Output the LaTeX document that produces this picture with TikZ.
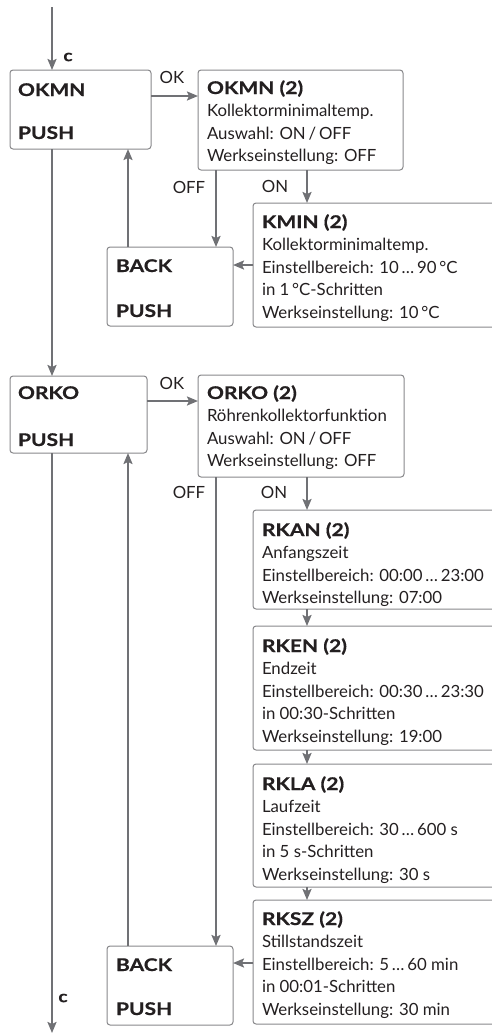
\documentclass[tikz,border=0pt]{standalone}
\usepackage{fontspec}
\setmainfont{Lato}
\newfontfamily\titlefam{Lato}[BoldFeatures={FakeStretch=1.2,FakeBold=0.6}]
\newcommand{\ttl}[1]{{\fontsize{17.5}{22.5}\titlefam\bfseries #1}}
\usetikzlibrary{arrows.meta}
\definecolor{linegray}{RGB}{112,113,117}
\definecolor{boxgray}{RGB}{135,135,138}
\definecolor{txtcol}{RGB}{35,31,32}
\begin{document}
\begin{tikzpicture}[x=1pt,y=-1pt,
  box/.style={draw=boxgray, line width=1pt, rounded corners=3pt, anchor=north west, inner sep=0pt, outer sep=0pt},
  tx/.style={anchor=base west, inner sep=0pt, outer sep=0pt, text=txtcol, font=\fontsize{16.8}{22.5}\selectfont},
  lbl/.style={anchor=base, inner sep=0pt, outer sep=0pt, text=txtcol, font=\fontsize{16.8}{18}\selectfont},
  clbl/.style={anchor=center, inner sep=0pt, outer sep=0pt, text=txtcol, font=\fontsize{16}{18}\titlefam\bfseries},
  arr/.style={draw=linegray, line width=2pt, -{Stealth[length=11pt,width=9pt,inset=2pt]}}]
\clip (0,0) rectangle (492,1034);
% columns and rows
\coordinate (xa) at (52,0);
\coordinate (xb) at (128,0);
\coordinate (xc) at (216,0);
\coordinate (xd) at (307,0);
\coordinate (ya) at (0,96);
\coordinate (yb) at (0,265);
\coordinate (yc) at (0,401);
\coordinate (yd) at (0,963);
\coordinate (start) at (52,7);
\coordinate (end) at (52,1033);
% boxes
\node[box, minimum width=141pt, minimum height=79pt] (okmn) at (10,70) {};
\node[box, minimum width=205pt, minimum height=100pt] (okmn2) at (198,70) {};
\node[box, minimum width=300pt, minimum height=124pt] (kmin) at (253,203) {};
\node[box, minimum width=126pt, minimum height=79pt] (back1) at (107,247) {};
\node[box, minimum width=137pt, minimum height=77pt] (orko) at (10,376) {};
\node[box, minimum width=206pt, minimum height=102pt] (orko2) at (198,375) {};
\node[box, minimum width=300pt, minimum height=99pt] (rkan) at (253,510) {};
\node[box, minimum width=300pt, minimum height=124pt] (rken) at (253,626) {};
\node[box, minimum width=300pt, minimum height=123pt] (rkla) at (253,764) {};
\node[box, minimum width=300pt, minimum height=124pt] (rksz) at (253,900) {};
\node[box, minimum width=126pt, minimum height=79pt] (back2) at (107,946) {};
% texts
\node[tx] (t-okmn) at (18,96) {\begin{tabular}[t]{@{}l@{}}\ttl{OKMN}\\[20.5pt]\ttl{PUSH}\end{tabular}};
\node[tx] (t-okmn2) at (207,94) {\begin{tabular}[t]{@{}l@{}}\ttl{OKMN (2)}\\ Kollektorminimaltemp.\\ Auswahl: ON\,/\,OFF\\ Werkseinstellung: OFF\end{tabular}};
\node[tx] (t-kmin) at (262,228) {\begin{tabular}[t]{@{}l@{}}\ttl{KMIN (2)}\\ Kollektorminimaltemp.\\ Einstellbereich: 10\,…\,90\,°C\\ in 1\,°C-Schritten\\ Werkseinstellung: 10\,°C\end{tabular}};
\node[tx] (t-back1) at (116,272) {\begin{tabular}[t]{@{}l@{}}\ttl{BACK}\\[22.5pt]\ttl{PUSH}\end{tabular}};
\node[tx] (t-orko) at (18,399) {\begin{tabular}[t]{@{}l@{}}\ttl{ORKO}\\[24.5pt]\ttl{PUSH}\end{tabular}};
\node[tx] (t-orko2) at (207,399) {\begin{tabular}[t]{@{}l@{}}\ttl{ORKO (2)}\\ Röhrenkollektorfunktion\\ Auswahl: ON\,/\,OFF\\ Werkseinstellung: OFF\end{tabular}};
\node[tx] (t-rkan) at (262,536) {\begin{tabular}[t]{@{}l@{}}\ttl{RKAN (2)}\\ Anfangszeit\\ Einstellbereich: 00:00\,…\,23:00\\ Werkseinstellung: 07:00\end{tabular}};
\node[tx] (t-rken) at (262,652) {\begin{tabular}[t]{@{}l@{}}\ttl{RKEN (2)}\\ Endzeit\\ Einstellbereich: 00:30\,…\,23:30\\ in 00:30-Schritten\\ Werkseinstellung: 19:00\end{tabular}};
\node[tx] (t-rkla) at (262,790) {\begin{tabular}[t]{@{}l@{}}\ttl{RKLA (2)}\\ Laufzeit\\ Einstellbereich: 30\,…\,600 s\\ in 5 s-Schritten\\ Werkseinstellung: 30 s\end{tabular}};
\node[tx] (t-rksz) at (262,925) {\begin{tabular}[t]{@{}l@{}}\ttl{RKSZ (2)}\\ Stillstandszeit\\ Einstellbereich: 5\,…\,60 min\\ in 00:01-Schritten\\ Werkseinstellung: 30 min\end{tabular}};
\node[tx] (t-back2) at (116,971) {\begin{tabular}[t]{@{}l@{}}\ttl{BACK}\\[21.5pt]\ttl{PUSH}\end{tabular}};
% labels
\node[clbl] (c1) at (68,57) {c};
\node[clbl] (c2) at (63,998) {c};
\node[lbl] (ok1) at (172,83) {OK};
\node[lbl] (ok2) at (172,389) {OK};
\node[lbl] (off1) at (189,193) {OFF};
\node[lbl] (on1) at (275,192) {ON};
\node[lbl] (off2) at (189,498) {OFF};
\node[lbl] (on2) at (274,498) {ON};
% connectors
\draw[arr] (start) -- (okmn.north -| xa);
\draw[arr] (okmn.east |- ya) -- (okmn2.west |- ya);
\draw[arr] (okmn.south -| xa) -- (orko.north -| xa);
\draw[arr] (back1.north -| xb) -- (okmn.south -| xb);
\draw[arr] (okmn2.south -| xc) -- (back1.north -| xc);
\draw[arr] (okmn2.south -| xd) -- (kmin.north -| xd);
\draw[arr] (kmin.west |- yb) -- (back1.east |- yb);
\draw[arr] (orko.east |- yc) -- (orko2.west |- yc);
\draw[arr] (orko.south -| xa) -- (end);
\draw[arr] (back2.north -| xb) -- (orko.south -| xb);
\draw[arr] (orko2.south -| xc) -- (back2.north -| xc);
\draw[arr] (orko2.south -| xd) -- (rkan.north -| xd);
\draw[arr] (rkan.south -| xd) -- (rken.north -| xd);
\draw[arr] (rken.south -| xd) -- (rkla.north -| xd);
\draw[arr] (rkla.south -| xd) -- (rksz.north -| xd);
\draw[arr] (rksz.west |- yd) -- (back2.east |- yd);
\end{tikzpicture}
\end{document}
